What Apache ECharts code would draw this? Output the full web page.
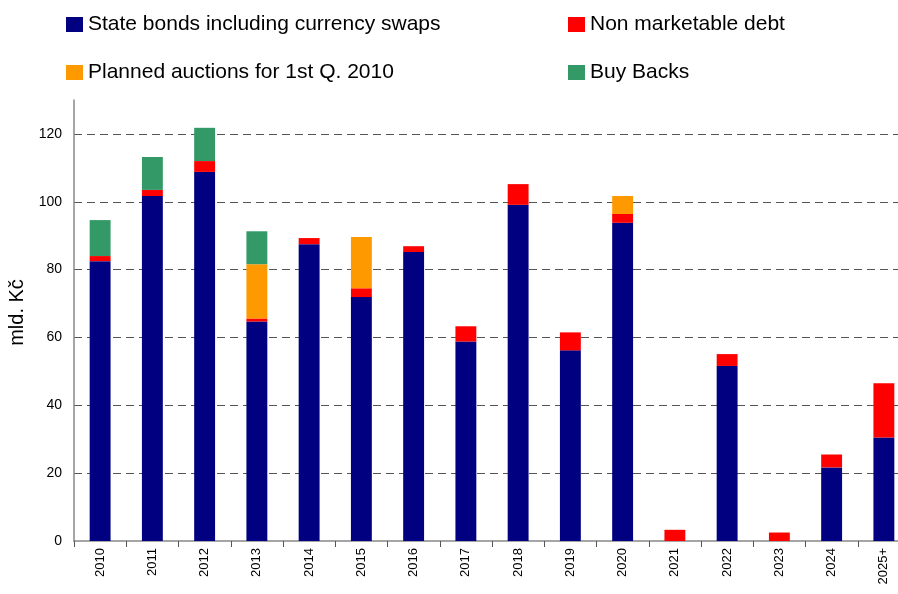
<!DOCTYPE html>
<html>
<head>
<meta charset="utf-8">
<script src="https://cdn.jsdelivr.net/npm/echarts@6/dist/echarts.min.js"></script>
<style>html,body{margin:0;padding:0;background:#fff;}#c{width:898px;height:594px;}</style>
</head>
<body>
<div id="c"></div>
<script>
var categories = ['2010','2011','2012','2013','2014','2015','2016','2017','2018','2019','2020','2021','2022','2023','2024','2025+'];
var stateBonds = [82.5, 101.7, 108.8, 64.7, 87.5, 71.9, 85.2, 58.8, 99.1, 56.2, 93.8, null, 51.6, null, 21.7, 30.5];
var nonMarketable = [1.5, 1.8, 3.2, 0.9, 1.8, 2.6, 1.7, 4.5, 6.1, 5.3, 2.6, 3.3, 3.5, 2.5, 3.8, 16.0];
var plannedAuctions = [null, null, null, 16.0, null, 15.1, null, null, null, null, 5.3, null, null, null, null, null];
var buyBacks = [10.6, 9.7, 9.8, 9.7, null, null, null, null, null, null, null, null, null, null, null, null];

var FONT = '"Liberation Sans", Arial, sans-serif';
var names = ['State bonds including currency swaps', 'Non marketable debt', 'Planned auctions for 1st Q. 2010', 'Buy Backs'];
var colors = ['#000080', '#FF0000', '#FF9900', '#339966'];
var legendPos = [[66, 14], [568, 14], [66, 62], [568, 62]];

var chart = echarts.init(document.getElementById('c'), null, {renderer: 'canvas'});
var legends = names.map(function (n, i) {
  return {
    data: [n], left: legendPos[i][0], top: legendPos[i][1], padding: 0,
    icon: 'rect', itemWidth: 17, itemHeight: 15, itemGap: 5, selectedMode: false,
    textStyle: {fontFamily: FONT, fontSize: 21, color: '#000'}
  };
});
function mk(i, data) {
  return {name: names[i], type: 'bar', stack: 'total', data: data, barWidth: '40%',
    itemStyle: {color: colors[i]}, emphasis: {disabled: true}};
}
chart.setOption({
  animation: false,
  textStyle: {fontFamily: FONT},
  legend: legends,
  grid: {left: 74, width: 836, top: 100, bottom: 53, containLabel: false, outerBoundsMode: 'none'},
  xAxis: {
    type: 'category', data: categories, boundaryGap: true,
    axisLine: {lineStyle: {color: '#888', width: 1.5}},
    axisTick: {show: true, length: 6, lineStyle: {color: '#555'}},
    axisLabel: {rotate: 90, fontSize: 13, color: '#000', fontFamily: FONT, margin: 7, interval: 0}
  },
  yAxis: {
    type: 'value', min: 0, max: 130, interval: 20,
    name: 'mld. Kč', nameLocation: 'middle', nameGap: 38, nameRotate: 90,
    nameTextStyle: {fontFamily: FONT, fontSize: 20, color: '#000', padding: [0, 0, 0, 16]},
    axisLine: {show: true, lineStyle: {color: '#888', width: 1.5}},
    axisTick: {show: false},
    axisLabel: {fontSize: 14, color: '#000', fontFamily: FONT, margin: 12, showMaxLabel: false},
    splitLine: {show: true, showMinLine: false, showMaxLine: false, lineStyle: {color: '#555', type: [8, 5], width: 1}}
  },
  series: [mk(0, stateBonds), mk(1, nonMarketable), mk(2, plannedAuctions), mk(3, buyBacks)]
});
</script>
</body>
</html>
